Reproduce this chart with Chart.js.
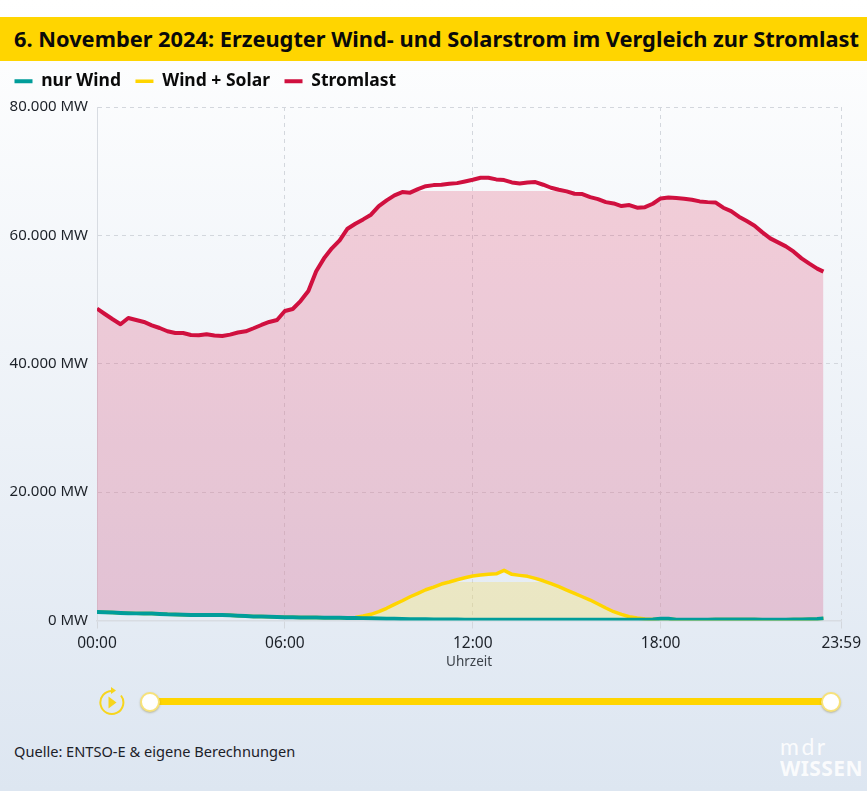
<!DOCTYPE html>
<html>
<head>
<meta charset="utf-8">
<title>Wind- und Solarstrom</title>
<script src="https://cdn.jsdelivr.net/npm/chart.js@4"></script>
<style>
html, body { margin: 0; padding: 0; background: #fff; }
body { width: 867px; height: 793px; overflow: hidden; position: relative; font-family: "Noto Sans", sans-serif; }
#bg { position: absolute; left: 0; top: 0; width: 867px; height: 791px; background: linear-gradient(#ffffff, #dde6f1); }
#chartBox { position: absolute; left: 0; top: 55px; width: 867px; height: 617px; }
#banner { position: absolute; left: 0; top: 17px; width: 867px; height: 44px; background: #ffd500; color: #0a0a0a; font-weight: 700; font-size: 21.8px; line-height: 44px; padding-left: 14px; box-sizing: border-box; white-space: nowrap; }
#track { position: absolute; left: 150px; top: 698px; width: 681px; height: 7px; background: #ffd500; }
.handle { position: absolute; top: 692px; width: 16px; height: 16px; border-radius: 50%; background: #fff; border: 2px solid #f7e27a; box-shadow: 0 1px 2px rgba(120,110,40,.4); }
#play { position: absolute; left: 98px; top: 686px; }
#source { position: absolute; left: 14px; top: 741px; font-size: 14.6px; color: #1c2128; }
#mdr { position: absolute; left: 780px; top: 736px; font-size: 23px; line-height: 20px; color: #fff; opacity: .85; font-family: Lato, sans-serif; letter-spacing: 2.5px; }
#wissen { position: absolute; left: 780px; top: 757px; font-size: 21px; line-height: 22px; font-weight: 700; color: #fff; opacity: .85; letter-spacing: .4px; }
</style>
</head>
<body>
<div id="bg"></div>
<div id="chartBox"><canvas id="myChart" width="867" height="617"></canvas></div>
<div id="banner">6. November 2024: Erzeugter Wind- und Solarstrom im Vergleich zur Stromlast</div>
<svg id="play" width="28" height="30" viewBox="0 0 28 30">
  <path d="M14 5 A11.5 11.5 0 1 0 23 9.5" fill="none" stroke="#f7d51d" stroke-width="2"/>
  <path d="M13 1 L18 4.5 L13 8 Z" fill="#f7d51d"/>
  <path d="M10.5 10.5 L18.5 16.5 L10.5 22.5 Z" fill="#f7d51d"/>
</svg>
<div id="track"></div>
<div class="handle" style="left:140px"></div>
<div class="handle" style="left:821px"></div>
<div id="source">Quelle: ENTSO-E &amp; eigene Berechnungen</div>
<div id="mdr">mdr</div>
<div id="wissen">WISSEN</div>
<script>
var minutes = [0,15,30,45,60,75,90,105,120,135,150,165,180,195,210,225,240,255,270,285,
300,315,330,345,360,375,390,405,420,435,450,465,480,495,510,525,540,555,570,585,
600,615,630,645,660,675,690,705,720,735,750,765,780,795,810,825,840,855,870,885,
900,915,930,945,960,975,990,1005,1020,1035,1050,1065,1080,1095,1110,1125,1140,1155,1170,1185,
1200,1215,1230,1245,1260,1275,1290,1305,1320,1335,1350,1365,1380,1392];
var wind = [1320,1290,1230,1170,1130,1110,1100,1080,1030,960,
920,890,860,840,860,870,850,800,750,690,
640,610,570,540,520,500,470,460,450,440,
420,410,400,390,370,350,320,290,260,230,
210,190,180,170,160,150,140,130,120,110,
100,100,100,100,100,100,100,100,100,100,
100,100,100,100,100,100,100,100,100,100,
100,150,270,260,120,100,120,130,130,140,
170,170,170,170,150,130,130,130,130,140,
170,200,240,330];
var windSolar = [1320,1290,1230,1170,1130,1110,1100,1080,1030,960,
920,890,860,840,860,870,850,800,750,690,
640,610,570,540,520,500,470,460,450,440,
420,410,400,480,700,965,1370,1900,2520,3080,
3700,4230,4790,5210,5680,5990,6350,6660,6930,7080,
7190,7280,7810,7190,7030,6880,6570,6190,5730,5260,
4750,4230,3700,3190,2570,1950,1370,965,590,390,
230,170,270,260,120,100,120,130,130,140,
170,170,170,170,150,130,130,130,130,140,
170,200,240,330];
var load = [48600,47750,46930,46150,47130,46820,46510,45990,45570,45060,
44790,44790,44480,44440,44590,44390,44330,44540,44860,45060,
45530,46040,46510,46820,48220,48530,49770,51330,54400,56420,
57980,59220,61040,61820,62490,63220,64560,65450,66230,66740,
66650,67210,67670,67830,67890,68050,68140,68400,68670,68980,
68980,68720,68610,68250,68090,68250,68300,67890,67420,67110,
66850,66490,66430,65960,65650,65180,64980,64560,64720,64310,
64400,64930,65760,65910,65810,65710,65560,65290,65180,65140,
64310,63780,62910,62230,61510,60470,59530,58910,58290,57460,
56420,55600,54820,54350];
var xTicks = [0,360,720,1080,1426];
var xTickLabels = ['00:00','06:00','12:00','18:00','23:59'];
var loadFillCap = 66900;
var solarFillCap = 5940;

function points(values) {
  return values.map(function(v, i) { return { x: minutes[i], y: v }; });
}

// fill fades top to bottom and stops flat at a given value
function cappedFill(cap, topColor, bottomColor) {
  return function(context) {
    var chart = context.chart;
    var area = chart.chartArea;
    if (!area) return 'transparent';
    var capPos = (chart.scales.y.getPixelForValue(cap) - area.top) / (area.bottom - area.top);
    var g = chart.ctx.createLinearGradient(0, area.top, 0, area.bottom);
    g.addColorStop(0, 'rgba(0,0,0,0)');
    g.addColorStop(capPos, 'rgba(0,0,0,0)');
    g.addColorStop(capPos, topColor);
    g.addColorStop(1, bottomColor);
    return g;
  };
}

// extra room between legend and plot
var legendGap = {
  id: 'legendGap',
  beforeInit: function(chart) {
    var fit = chart.legend.fit;
    chart.legend.fit = function() {
      fit.call(this);
      this.height += 7;
    };
  }
};

var fontName = '"Noto Sans", sans-serif';
var ctx = document.getElementById('myChart').getContext('2d');
var myChart = new Chart(ctx, {
  type: 'line',
  plugins: [legendGap],
  data: {
    datasets: [{
      label: 'nur Wind',
      data: points(wind),
      borderColor: '#009d9a',
      borderWidth: 4,
      pointRadius: 0,
      fill: false
    }, {
      label: 'Wind + Solar',
      data: points(windSolar),
      borderColor: '#ffd500',
      borderWidth: 3.5,
      pointRadius: 0,
      fill: { target: 0 },
      backgroundColor: cappedFill(solarFillCap, 'rgba(255,213,0,0.2)', 'rgba(255,213,0,0.2)')
    }, {
      label: 'Stromlast',
      data: points(load),
      borderColor: '#d0103f',
      borderWidth: 4,
      pointRadius: 0,
      fill: { target: 1 },
      backgroundColor: cappedFill(loadFillCap, 'rgba(222,30,75,0.2)', 'rgba(215,30,85,0.2)')
    }]
  },
  options: {
    responsive: false,
    animation: false,
    layout: { padding: { top: 3, right: 25 } },
    elements: { line: { tension: 0, borderJoinStyle: 'round', borderCapStyle: 'butt' } },
    plugins: {
      tooltip: { enabled: false },
      legend: {
        align: 'start',
        labels: {
          usePointStyle: true,
          pointStyle: 'line',
          pointStyleWidth: 18,
          boxHeight: 14,
          padding: 14.5,
          color: '#0a0a0a',
          font: { family: fontName, size: 17.5, weight: '700' }
        }
      }
    },
    scales: {
      x: {
        type: 'linear',
        min: 0,
        max: 1426,
        afterBuildTicks: function(scale) {
          scale.ticks = xTicks.map(function(v) { return { value: v }; });
        },
        afterFit: function(scale) { scale.height = 51.5; },
        ticks: {
          autoSkip: false,
          maxRotation: 0,
          padding: 6,
          color: '#1c2128',
          font: { family: fontName, size: 15.5 },
          callback: function(value) { return xTickLabels[xTicks.indexOf(value)]; }
        },
        grid: { color: '#d3d7dd', borderDash: [4, 4], tickLength: 8, drawTicks: true },
        border: { color: '#d8dce2', width: 1.5, dash: [4, 4] },
        title: { display: true, text: 'Uhrzeit', color: '#3c4249', font: { family: fontName, size: 13.5 }, padding: { top: 0, bottom: 2 } }
      },
      y: {
        min: 0,
        max: 80000,
        afterFit: function(scale) { scale.width = 97; },
        ticks: {
          stepSize: 20000,
          padding: 9,
          color: '#1c2128',
          font: { family: fontName, size: 15 },
          callback: function(value) { return value.toLocaleString('de-DE') + ' MW'; }
        },
        grid: { color: '#d3d7dd', tickLength: 0, drawTicks: false },
        border: { color: '#d8dce2', dash: [4, 4] }
      }
    }
  }
});
</script>
</body>
</html>
